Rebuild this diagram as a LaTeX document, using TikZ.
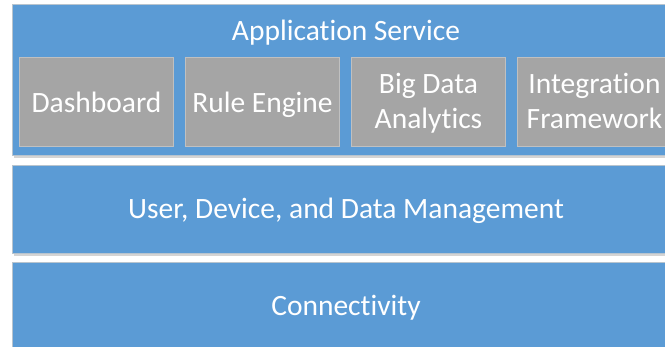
\documentclass[tikz,border=0pt]{standalone}
\usepackage{fontspec}
\setmainfont[RawFeature={-liga;-clig;-calt;-dlig}]{Carlito}
\definecolor{layerblue}{HTML}{5B9BD5}
\definecolor{modgray}{HTML}{A5A5A5}
\definecolor{modedge}{HTML}{C0C0C0}
\definecolor{layeredge}{HTML}{B8C4CE}
\definecolor{shadowgray}{HTML}{D4D4D4}
\begin{document}
\begin{tikzpicture}[x=1pt,y=-1pt,
  layer/.style={fill=layerblue,draw=layeredge,line width=1pt,anchor=north west,inner sep=0pt},
  module/.style={fill=modgray,draw=modedge,line width=1pt,anchor=north west,inner sep=0pt,
     minimum width=154pt,minimum height=89pt},
  lbl/.style={text=white,font=\fontsize{29.5}{35}\selectfont,inner sep=0pt,anchor=base}
]
\useasboundingbox (0,0) rectangle (665,346);
\clip (0,0) rectangle (665,346);
\fill[white] (0,0) rectangle (665,346);
% shadows
\fill[shadowgray] (14,7) rectangle (683,158);
\fill[shadowgray] (14,168) rectangle (683,256);
% layers
\node[layer,minimum width=668pt,minimum height=151pt] (app) at (12,4) {};
\node[layer,minimum width=668pt,minimum height=88pt] (mgmt) at (12,165) {};
\node[layer,minimum width=668pt,minimum height=100pt] (conn) at (12,262) {};
% labels
\node[lbl] (applbl) at (346,40) {Applicat\kern0pt ion Service};
\node[lbl] (mgmtlbl) at (346,218) {User, Device, and Data Management};
\node[lbl] (connlbl) at (346,315) {Connect\kern0pt ivit\kern0pt y};
% modules
\node[module] (dash) at (19,57) {};
\node[module] (rule) at (185,57) {};
\node[module] (big) at (351,57) {};
\node[module] (integ) at (517,57) {};
\node[lbl] (dashlbl) at (dash.center |- 0,112) {Dashboard};
\node[lbl] (rulelbl) at (rule.center |- 0,112) {Rule Engine};
\node[lbl] (biglbl1) at (big.center |- 0,93) {Big Data};
\node[lbl] (biglbl2) at (big.center |- 0,128) {Analyt\kern0pt ics};
\node[lbl] (integlbl1) at (integ.center |- 0,93) {Integrat\kern0pt ion};
\node[lbl] (integlbl2) at (integ.center |- 0,128) {Framework};
\end{tikzpicture}
\end{document}
